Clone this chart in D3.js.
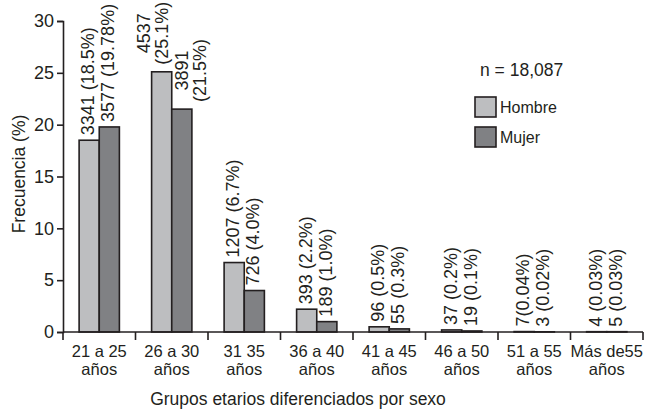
<!DOCTYPE html>
<html>
<head>
<meta charset="utf-8">
<script src="https://cdn.jsdelivr.net/npm/d3@7"></script>
<style>
  body { margin: 0; background: #fff; }
  text { font-family: "Liberation Sans", Arial, sans-serif; fill: #231f20; }
</style>
</head>
<body>
<div id="chart"></div>
<script>
// Data
const groups = ["21 a 25|años", "26 a 30|años", "31 35|años", "36 a 40|años",
                "41 a 45|años", "46 a 50|años", "51 a 55|años", "Más de55|años"];
const hombre = [18.5, 25.1, 6.7, 2.2, 0.5, 0.2, 0.04, 0.03];
const mujer = [19.78, 21.5, 4.0, 1.0, 0.3, 0.1, 0.02, 0.03];
const hombreLabels = ["3341 (18.5%)", "4537|(25.1%)", "1207 (6.7%)", "393 (2.2%)",
                      "96 (0.5%)", "37 (0.2%)", "7(0.04%)", "4 (0.03%)"];
const mujerLabels = ["3577 (19.78%)", "3891|(21.5%)", "726 (4.0%)", "189 (1.0%)",
                     "55 (0.3%)", "19 (0.1%)", "3 (0.02%)", "5 (0.03%)"];
const yTicks = [0, 5, 10, 15, 20, 25, 30];
const series = ["Hombre", "Mujer"];
const colors = ["#bdbec0", "#808184"];

const width = 646;
const height = 413;
const margin = { top: 21, right: 3, bottom: 81, left: 63 };

const svg = d3.select("#chart")
    .append("svg")
    .attr("width", width)
    .attr("height", height);

const x = d3.scaleBand()
    .domain(groups)
    .range([margin.left, width - margin.right])
    .paddingInner(0)
    .paddingOuter(0);

const xSub = d3.scaleBand()
    .domain(series)
    .range([0, x.bandwidth()])
    .paddingOuter(0.8)
    .paddingInner(0);

const y = d3.scaleLinear()
    .domain([0, 30])
    .range([height - margin.bottom, margin.top]);

// y axis
const yAxis = svg.append("g")
    .attr("transform", `translate(${margin.left}, 0)`)
    .call(d3.axisLeft(y).tickValues(yTicks).tickSize(6).tickPadding(3));
yAxis.selectAll("text").style("font-size", "18px").attr("fill", "#231f20");
yAxis.selectAll("line, path").attr("stroke", "#231f20").attr("stroke-width", 1.6);

// bars
const rows = groups.map((g, i) => ({
    group: g,
    values: [
        { s: "Hombre", v: hombre[i], label: hombreLabels[i] },
        { s: "Mujer", v: mujer[i], label: mujerLabels[i] }
    ]
}));

const grp = svg.selectAll(".grp")
    .data(rows)
    .enter()
    .append("g")
    .attr("transform", d => `translate(${x(d.group)}, 0)`);

grp.selectAll("rect")
    .data(d => d.values)
    .enter()
    .append("rect")
    .attr("x", d => xSub(d.s))
    .attr("y", d => y(d.v))
    .attr("width", xSub.bandwidth())
    .attr("height", d => y(0) - y(d.v))
    .attr("fill", d => colors[series.indexOf(d.s)])
    .attr("stroke", "#231f20")
    .attr("stroke-width", 1.6);

// value labels, rotated
grp.selectAll(".val")
    .data(d => d.values)
    .enter()
    .each(function (d) {
        const cx = xSub(d.s) + xSub.bandwidth() / 2;
        const lines = d.label.split("|");
        const t = d3.select(this).append("text")
            .attr("class", "val")
            .style("font-size", "18px");
        if (lines.length === 1) {
            t.attr("transform", `translate(${cx + 5}, ${y(d.v) - 5}) rotate(-90)`)
                .attr("text-anchor", "start")
                .text(lines[0]);
        } else {
            // two-line labels: centred block, hombre leans left, mujer right
            const shift = d.s === "Hombre" ? -12 : 6;
            lines.forEach((l, k) => {
                t.append("tspan")
                    .attr("x", 0)
                    .attr("dy", k === 0 ? 0 : 18)
                    .text(l);
            });
            const len = d3.max(t.selectAll("tspan").nodes(), n => n.getComputedTextLength());
            t.attr("text-anchor", "middle")
                .attr("transform", `translate(${cx + shift}, ${y(d.v) - 7 - len / 2}) rotate(-90)`);
        }
    });

// x axis
const xAxisG = svg.append("g")
    .attr("transform", `translate(0, ${y(0)})`);
xAxisG.append("line")
    .attr("x1", margin.left).attr("x2", width - margin.right)
    .attr("stroke", "#231f20").attr("stroke-width", 1.6);
const bounds = groups.map(g => x(g)).concat([x(groups[groups.length - 1]) + x.bandwidth()]);
xAxisG.selectAll(".tk")
    .data(bounds)
    .enter()
    .append("line")
    .attr("x1", d => d).attr("x2", d => d)
    .attr("y1", 0).attr("y2", 8)
    .attr("stroke", "#231f20").attr("stroke-width", 1.6);
xAxisG.selectAll(".xl")
    .data(groups)
    .enter()
    .append("text")
    .attr("text-anchor", "middle")
    .style("font-size", "16.5px")
    .each(function (g) {
        const parts = g.split("|");
        d3.select(this).selectAll("tspan")
            .data(parts)
            .enter()
            .append("tspan")
            .attr("x", x(g) + x.bandwidth() / 2)
            .attr("y", (p, k) => 25 + k * 18)
            .text(p => p);
    });

// axis titles
svg.append("text")
    .attr("text-anchor", "middle")
    .attr("transform", `translate(25, 174) rotate(-90)`)
    .style("font-size", "17.5px")
    .text("Frecuencia (%)");

svg.append("text")
    .attr("text-anchor", "middle")
    .attr("x", 298)
    .attr("y", 405)
    .style("font-size", "17.5px")
    .text("Grupos etarios diferenciados por sexo");

// n and legend
svg.append("text")
    .attr("x", 480)
    .attr("y", 76)
    .style("font-size", "17.5px")
    .text("n = 18,087");

const legend = svg.append("g").attr("transform", "translate(475, 97)");
series.forEach((s, i) => {
    legend.append("rect")
        .attr("x", 0).attr("y", i * 30)
        .attr("width", 21).attr("height", 20)
        .attr("fill", colors[i])
        .attr("stroke", "#231f20")
        .attr("stroke-width", 1.6);
    legend.append("text")
        .attr("x", 25).attr("y", i * 30 + 16)
        .style("font-size", "16px")
        .text(s);
});
</script>
</body>
</html>
